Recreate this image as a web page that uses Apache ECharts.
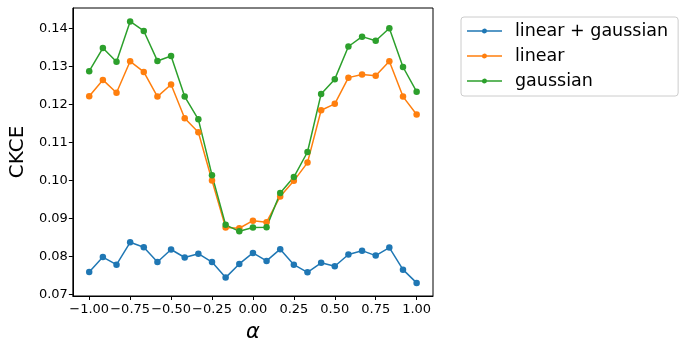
<!DOCTYPE html>
<html>
<head>
<meta charset="utf-8">
<script src="https://cdn.jsdelivr.net/npm/echarts@6/dist/echarts.min.js"></script>
<style>
    html, body { margin: 0; padding: 0; background: #fff; }
    #chart { width: 698px; height: 349px; }
</style>
</head>
<body>
<div id="chart"></div>
<script>
// alpha values (x)
const alpha = [-1.0, -0.9167, -0.8333, -0.75, -0.6667, -0.5833, -0.5, -0.4167, -0.3333, -0.25, -0.1667, -0.0833,
    0.0, 0.0833, 0.1667, 0.25, 0.3333, 0.4167, 0.5, 0.5833, 0.6667, 0.75, 0.8333, 0.9167, 1.0]

const linGauss = [0.0759, 0.0798, 0.0778, 0.0837, 0.0824, 0.0785, 0.0818, 0.0797, 0.0807, 0.0785, 0.0744, 0.0780,
    0.0809, 0.0788, 0.0819, 0.0778, 0.0758, 0.0783, 0.0774, 0.0805, 0.0815, 0.0802, 0.0823, 0.0765, 0.0730]
const linear = [0.1222, 0.1265, 0.1231, 0.1314, 0.1286, 0.1221, 0.1253, 0.1164, 0.1127, 0.1000, 0.0876, 0.0874,
    0.0894, 0.0890, 0.0958, 0.0999, 0.1047, 0.1185, 0.1202, 0.1271, 0.1279, 0.1276, 0.1314, 0.1221, 0.1174]
const gaussian = [0.1288, 0.1349, 0.1313, 0.1419, 0.1394, 0.1315, 0.1328, 0.1221, 0.1161, 0.1014, 0.0883, 0.0866,
    0.0876, 0.0877, 0.0967, 0.1009, 0.1075, 0.1228, 0.1267, 0.1353, 0.1379, 0.1368, 0.1401, 0.1299, 0.1234]

const xTicks = [-1.0, -0.75, -0.5, -0.25, 0.0, 0.25, 0.5, 0.75, 1.0]
const yTicks = [0.07, 0.08, 0.09, 0.10, 0.11, 0.12, 0.13, 0.14]

const seriesNames = ['linear + gaussian', 'linear', 'gaussian']
const colors = ['#1f77b4', '#ff7f0e', '#2ca02c']

const fnt = 'DejaVu Sans'
const minus = s => s.replace('-', '\u2212')

const ec = echarts.init(document.getElementById('chart'))

function mkSeries (name, vals, color) {
    return {
        name,
        type: 'line',
        data: alpha.map((a, i) => [a, vals[i]]),
        symbol: 'circle',
        symbolSize: 6.5,
        showSymbol: true,
        lineStyle: { color, width: 1.5 },
        itemStyle: { color },
        emphasis: { disabled: true },
        animation: false
    }
}

ec.setOption({
    animation: false,
    grid: {
        left: 66, right: 265, top: 8, bottom: 53,
        show: true, borderColor: '#000', borderWidth: 1
    },
    legend: {
        orient: 'vertical',
        left: 461, top: 17,
        padding: [5, 10, 6, 6],
        itemGap: 7,
        itemWidth: 35, itemHeight: 18,
        itemStyle: { borderWidth: 0 },
        borderColor: '#ccc', borderWidth: 1, borderRadius: 3,
        textStyle: { fontFamily: fnt, fontSize: 17.5, color: '#000', padding: [0, 0, 0, 8] },
        data: seriesNames.map((n, i) => ({
            name: n,
            icon: 'path://M0,9 L35,9 L35,10.5 L0,10.5 Z M17.5,7.2 A2.5,2.5 0 1 1 17.49,7.2 Z'
        }))
    },
    xAxis: {
        type: 'value',
        min: -1.1, max: 1.1,
        name: 'α',
        nameLocation: 'middle',
        nameGap: 26,
        nameTextStyle: { fontFamily: fnt, fontSize: 21, fontStyle: 'italic', color: '#000' },
        axisLine: { show: true, onZero: false, lineStyle: { color: '#000' } },
        axisTick: { show: true, length: 4, lineStyle: { color: '#000' }, customValues: xTicks },
        axisLabel: {
            customValues: xTicks,
            hideOverlap: false,
            showMinLabel: true, showMaxLabel: true,
            fontFamily: fnt, fontSize: 13, color: '#000', margin: 7,
            formatter: v => minus(v.toFixed(2))
        },
        splitLine: { show: false }
    },
    yAxis: {
        type: 'value',
        min: 0.06955, max: 0.14545,
        name: 'CKCE',
        nameLocation: 'middle',
        nameGap: 42,
        nameTextStyle: { fontFamily: fnt, fontSize: 20, color: '#000' },
        axisLine: { show: true, onZero: false, lineStyle: { color: '#000' } },
        axisTick: { show: true, length: 4, lineStyle: { color: '#000' }, customValues: yTicks },
        axisLabel: {
            customValues: yTicks,
            hideOverlap: false,
            showMinLabel: true, showMaxLabel: true,
            fontFamily: fnt, fontSize: 13, color: '#000', margin: 5,
            formatter: v => v.toFixed(2)
        },
        splitLine: { show: false }
    },
    series: [
        mkSeries(seriesNames[0], linGauss, colors[0]),
        mkSeries(seriesNames[1], linear, colors[1]),
        mkSeries(seriesNames[2], gaussian, colors[2])
    ]
})
</script>
</body>
</html>
